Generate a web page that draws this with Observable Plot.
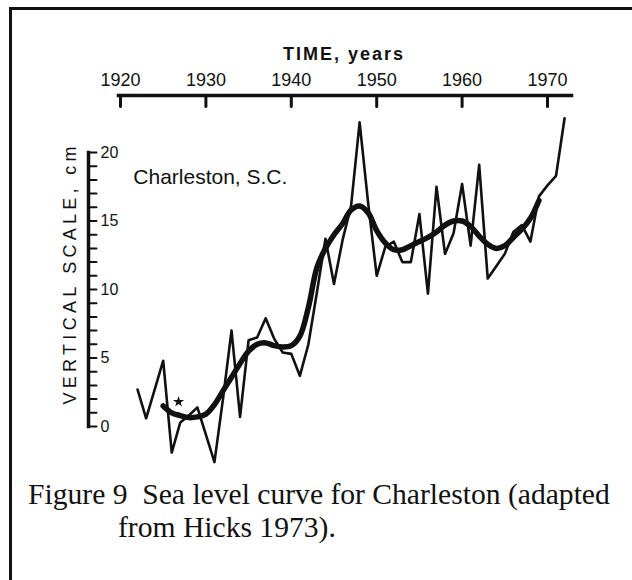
<!DOCTYPE html>
<html>
<head>
<meta charset="utf-8">
<script src="https://cdn.jsdelivr.net/npm/d3@7"></script>
<script src="https://cdn.jsdelivr.net/npm/@observablehq/plot@0.6"></script>
<style>
  html, body { margin: 0; padding: 0; background: #fff; }
  body { width: 632px; height: 580px; overflow: hidden; position: relative; }
  #border { position: absolute; left: 9px; top: 7px; width: 640px; height: 600px;
            border-left: 3px solid #111; border-top: 3px solid #111; }
  #chart { position: absolute; left: 0; top: 0; }
  .cap { position: absolute; font-family: "Liberation Serif", serif; font-size: 29.6px;
         color: #111; white-space: nowrap; line-height: 33px; }
</style>
</head>
<body>
<div id="border"></div>
<div id="chart"></div>
<div class="cap" style="left:28px; top:478px;">Figure 9&nbsp; Sea level curve for Charleston (adapted</div>
<div class="cap" style="left:118px; top:511px;">from Hicks 1973).</div>
<script>
// Annual mean sea level, Charleston S.C. (cm, relative scale)
const years = [1922,1923,1924,1925,1926,1927,1928,1929,1930,1931,1932,1933,1934,1935,1936,1937,1938,1939,1940,1941,1942,1943,1944,1945,1946,1947,1948,1949,1950,1951,1952,1953,1954,1955,1956,1957,1958,1959,1960,1961,1962,1963,1964,1965,1966,1967,1968,1969,1970,1971,1972];
const seaLevel = [2.7,0.6,2.7,4.8,-1.9,0.3,0.8,1.4,-0.6,-2.6,2.0,7.0,0.7,6.3,6.5,7.9,6.4,5.4,5.3,3.7,6.0,9.8,13.7,10.4,13.6,16.1,22.2,16.3,11.0,13.1,13.5,12.0,12.0,15.5,9.7,17.5,12.6,14.1,17.7,13.2,19.1,10.8,11.7,12.6,14.2,14.7,13.5,16.8,17.6,18.3,22.5];

// Smoothed curve
const smoothYears = [1925,1926,1927,1928,1929,1930,1931,1932,1933,1934,1935,1936,1937,1938,1939,1940,1941,1942,1943,1944,1945,1946,1947,1948,1949,1950,1951,1952,1953,1954,1955,1956,1957,1958,1959,1960,1961,1962,1963,1964,1965,1966,1967,1968,1969];
const smoothLevel = [1.5,1.0,0.8,0.65,0.7,0.9,1.6,2.6,3.6,4.6,5.5,6.0,6.1,5.9,5.8,5.9,6.6,8.7,11.6,13.0,14.0,14.8,15.8,16.1,15.6,14.3,13.4,12.9,12.9,13.2,13.5,13.8,14.2,14.7,15.0,15.0,14.6,13.9,13.3,13.0,13.2,13.8,14.4,15.2,16.5];

// Axis ticks and labels
const xTicks = [1920,1930,1940,1950,1960,1970];
const yMinorTicks = [0,1,2,3,4,5,6,7,8,9,10,11,12,13,14,15,16,17,18,19,20];
const yLabels = [0,5,10,15,20];

// Annotations
const stationLabel = [{year: 1921.5, level: 18.2, text: "Charleston, S.C."}];
const markerPoint = [{year: 1926.8, level: 1.8}];

const raw = years.map((y, i) => ({year: y, level: seaLevel[i]}));
const smooth = smoothYears.map((y, i) => ({year: y, level: smoothLevel[i]}));

const tickDown = {draw(ctx, l) { ctx.moveTo(0, 0); ctx.lineTo(0, l); }};
const tickRight = {draw(ctx, l) { ctx.moveTo(0, 0); ctx.lineTo(l, 0); }};
const ink = "#111";

const chart = Plot.plot({
  width: 632,
  height: 472,
  marginTop: 95,
  marginLeft: 88,
  marginRight: 61,
  marginBottom: 46,
  style: {fontFamily: "Liberation Sans, sans-serif", color: ink, background: "transparent", overflow: "visible"},
  x: {domain: [1920, 1970], range: [120, 547], axis: null},
  y: {domain: [0, 20], range: [426, 152], axis: null},
  marks: [
    // top axis
    Plot.frame({anchor: "top", insetLeft: 30, stroke: ink, strokeWidth: 3.5}),
    Plot.vector(xTicks, {x: d => d, frameAnchor: "top", length: 11, anchor: "start", shape: tickDown, stroke: ink, strokeWidth: 3}),
    Plot.text(xTicks, {x: d => d, text: d => String(d), frameAnchor: "top", textAnchor: "middle", lineAnchor: "middle", dy: -15, fontSize: 18, fill: ink}),
    Plot.text(["TIME, years"], {frameAnchor: "top", textAnchor: "middle", lineAnchor: "middle", dx: 13, dy: -41, fontSize: 18, fontWeight: "bold", fill: ink}),
    // left axis
    Plot.frame({anchor: "left", insetTop: 57, stroke: ink, strokeWidth: 3.5}),
    Plot.vector(yMinorTicks, {y: d => d, frameAnchor: "left", length: 8, anchor: "start", shape: tickRight, stroke: ink, strokeWidth: 2}),
    Plot.text(yLabels, {y: d => d, text: d => String(d), frameAnchor: "left", textAnchor: "start", lineAnchor: "middle", dx: 12, fontSize: 16, fill: ink}),
    Plot.text(["VERTICAL SCALE, cm"], {frameAnchor: "left", textAnchor: "middle", lineAnchor: "middle", rotate: -90, dx: -18, dy: 14.5, fontSize: 18, fill: ink}),
    // data
    Plot.line(raw, {x: "year", y: "level", stroke: ink, strokeWidth: 2.6, strokeLinejoin: "round"}),
    Plot.line(smooth, {x: "year", y: "level", curve: "catmull-rom", stroke: ink, strokeWidth: 5.5, strokeLinecap: "round"}),
    Plot.dot(markerPoint, {x: "year", y: "level", symbol: "star", fill: ink, stroke: null, r: 3.5}),
    Plot.text(stationLabel, {x: "year", y: "level", text: "text", textAnchor: "start", fontSize: 21, fill: ink})
  ]
});
document.getElementById("chart").appendChild(chart);
d3.select(chart).selectAll("text").filter(function() { return this.textContent === "VERTICAL SCALE, cm"; })
  .attr("textLength", 258).attr("lengthAdjust", "spacing");
d3.select(chart).selectAll("text").filter(function() { return this.textContent === "TIME, years"; })
  .attr("textLength", 120).attr("lengthAdjust", "spacing");
</script>
</body>
</html>
